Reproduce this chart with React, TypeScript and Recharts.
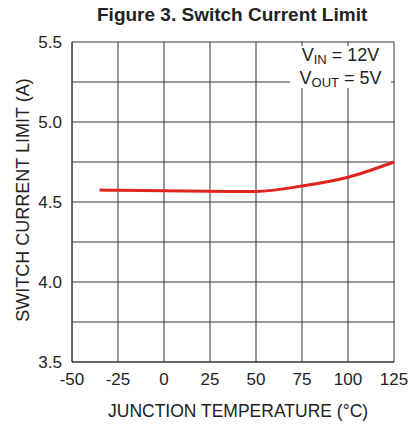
import React from 'react';
import { LineChart, Line, XAxis, YAxis, CartesianGrid } from 'recharts';

const temps = [-35, -25, 0, 25, 50, 75, 100, 125];
const current = [4.575, 4.573, 4.57, 4.567, 4.566, 4.6, 4.655, 4.75];
const xTicks = [-50, -25, 0, 25, 50, 75, 100, 125];
const yTicks = [3.5, 3.75, 4, 4.25, 4.5, 4.75, 5, 5.25, 5.5];

const data = temps.map((t, i) => ({ t, a: current[i] }));

const font = 'Arial, "Liberation Sans", sans-serif';
const tickStyle = { fontSize: 17, fill: '#222', fontFamily: font };

export default function App() {
  return (
    <div style={{ position: 'absolute', left: 0, top: 0, width: 410, height: 425, background: '#fff', fontFamily: font }}>
      <div style={{ position: 'absolute', top: 4, left: 97, whiteSpace: 'nowrap', fontWeight: 'bold', fontSize: 19, color: '#222' }}>
        Figure 3. Switch Current Limit
      </div>
      <LineChart width={410} height={425} data={data} margin={{ top: 42, right: 16, bottom: 33, left: 0 }}>
        <CartesianGrid stroke="#333" strokeWidth={1} />
        <XAxis
          dataKey="t"
          type="number"
          domain={[-50, 125]}
          ticks={xTicks}
          height={30}
          tickSize={0}
          tickMargin={11}
          tick={tickStyle}
          axisLine={{ stroke: '#333' }}
          interval={0}
        />
        <YAxis
          type="number"
          domain={[3.5, 5.5]}
          ticks={yTicks}
          width={72}
          tickSize={0}
          tickMargin={10}
          tick={tickStyle}
          axisLine={{ stroke: '#333' }}
          interval={0}
          tickFormatter={(v: number) => (v * 2) % 1 === 0 ? v.toFixed(1) : ''}
        />
        <Line type="monotone" dataKey="a" stroke="#e0241f" strokeWidth={3} dot={false} isAnimationActive={false} />
      </LineChart>
      <div style={{ position: 'absolute', left: 290, top: 46, width: 101, height: 42, background: '#fff', textAlign: 'center', fontSize: 18, color: '#222', lineHeight: '19px' }}>
        <div>V<sub style={{ fontSize: 13, verticalAlign: '-3px' }}>IN</sub> = 12V</div>
        <div>V<sub style={{ fontSize: 13, verticalAlign: '-3px' }}>OUT</sub> = 5V</div>
      </div>
      <div style={{ position: 'absolute', top: 401, left: 108, whiteSpace: 'nowrap', fontSize: 17.5, color: '#222' }}>
        JUNCTION TEMPERATURE (°C)
      </div>
      <div style={{ position: 'absolute', left: 23, top: 200, transform: 'translate(-50%, -50%) rotate(-90deg)', whiteSpace: 'nowrap', fontSize: 18, color: '#222' }}>
        SWITCH CURRENT LIMIT (A)
      </div>
    </div>
  );
}
